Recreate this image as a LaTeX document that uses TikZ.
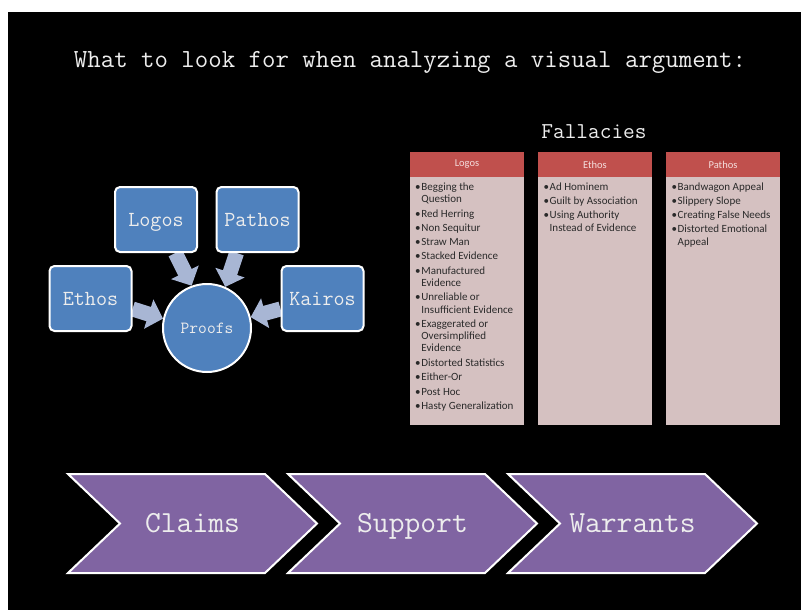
\documentclass[tikz,border=0pt]{standalone}
\usepackage{fontspec}
\setmainfont{Carlito}
\usetikzlibrary{arrows.meta,backgrounds}
\definecolor{boxblue}{HTML}{4F81BD}
\definecolor{arrowc}{HTML}{A8B6D4}
\definecolor{chev}{HTML}{8064A2}
\definecolor{hdr}{HTML}{C0504D}
\definecolor{colbody}{HTML}{D5C1C1}
\definecolor{lighttext}{HTML}{EDEDED}
\definecolor{hdrtext}{HTML}{F5DEDD}
\definecolor{bodytext}{HTML}{2A2A2A}
\newcommand\fbul[1]{\makebox[6.2pt][l]{\textbullet}#1}
\tikzset{
  pbox/.style={draw=white, line width=2pt, fill=boxblue, rounded corners=5pt,
    minimum width=82pt, minimum height=65pt, inner sep=0pt, text=lighttext,
    font=\ttfamily\fontsize{21.5}{25}\selectfont, text height=13pt, text depth=0pt},
  pcircle/.style={circle, draw=white, line width=2pt, fill=boxblue, minimum size=88pt,
    inner sep=0pt, text=lighttext, font=\ttfamily\fontsize{17}{20}\selectfont,
    text height=10.4pt, text depth=0pt},
  barrow/.style={draw=arrowc, line width=15pt, -{Triangle[length=15pt,width=30pt]}},
  hdrbox/.style={fill=hdr, minimum width=114.5pt, minimum height=25pt, inner sep=0pt,
    text=hdrtext, font=\fontsize{10.5}{12}\selectfont},
  bodybox/.style={fill=colbody, minimum width=114.5pt, minimum height=248pt, inner sep=0pt, anchor=north},
  fline/.style={anchor=west, inner sep=0pt, text=bodytext, font=\fontsize{11}{13}\selectfont,
    text height=7.5pt, text depth=2.5pt},
  chevron/.style={fill=chev, draw=white, line width=2pt, line join=miter},
  chevlabel/.style={text=lighttext, font=\ttfamily\fontsize{30.7}{36}\selectfont,
    text height=19pt, text depth=0pt, inner sep=0pt},
  heading/.style={text=lighttext, inner sep=0pt, anchor=base}
}
\begin{document}
\begin{tikzpicture}[x=1pt,y=-1pt]
\useasboundingbox (0,0) rectangle (801,610);
\begin{scope}[on background layer]
  \fill[white] (0,0) rectangle (801,610);
  \fill[black] (8,12) rectangle (801,610);
\end{scope}

% title
\node[heading, font=\ttfamily\fontsize{26.1}{31}\selectfont] (title) at (410,67.5)
  {What to look for when analyzing a visual argument:};

% proofs diagram
\node[pbox] (logos) at (156,219.5) {Logos};
\node[pbox] (pathos) at (257.5,219.5) {Pathos};
\node[pbox] (ethos) at (90.5,298.5) {Ethos};
\node[pbox] (kairos) at (322.5,298.5) {Kairos};
\node[pcircle] (proofs) at (207,328) {Proofs};
\begin{scope}[on background layer]
  \draw[barrow] (logos.-60) -- (proofs.110);
  \draw[barrow] (pathos.-122) -- (proofs.66);
  \draw[barrow] (ethos.-14) -- (proofs.168);
  \draw[barrow] (kairos.194) -- (proofs.14);
\end{scope}

% fallacies
\node[heading, font=\ttfamily\fontsize{22.7}{27}\selectfont] (fall) at (594,139) {Fallacies};
\node[hdrbox] (lh) at (467,164.5) {Logos};
\node[hdrbox] (eh) at (595,164.5) {Ethos};
\node[hdrbox] (ph) at (723,164.5) {Pathos};
\node[bodybox] (lb) at (lh.south) {};
\node[bodybox] (eb) at (eh.south) {};
\node[bodybox] (pb) at (ph.south) {};

\foreach \yy/\txt [count=\i] in {188/Begging the,214.7/Red Herring,229/Non Sequitur,
  243/Straw Man,257.3/Stacked Evidence,271.8/Manufactured,298.2/Unreliable or,
  325/Exaggerated or,363.8/Distorted Statistics,378/Either-Or,392.5/Post Hoc,
  406.7/Hasty Generalization}
  \node[fline] (lgb\i) at (415,\yy) {\fbul{\txt}};
\foreach \yy/\txt [count=\i] in {200/Question,284/Evidence,310.5/Insufficient Evidence,
  337/Oversimplified,349/Evidence}
  \node[fline] (lgc\i) at (421.2,\yy) {\txt};

\foreach \yy/\txt [count=\i] in {188/Ad Hominem,202/Guilt by Association,216/Using Authority}
  \node[fline] (etb\i) at (543.3,\yy) {\fbul{\txt}};
\node[fline] (etc1) at (549.5,229) {Instead of Evidence};

\foreach \yy/\txt [count=\i] in {188/Bandwagon Appeal,202/Slippery Slope,
  216/Creating False Needs,230/Distorted Emotional}
  \node[fline] (ptb\i) at (671.3,\yy) {\fbul{\txt}};
\node[fline] (ptc1) at (677.5,243) {Appeal};

% chevrons
\path[chevron] (68,474) -- (265,474) -- (317,523.5) -- (265,573) -- (68,573) -- (120,523.5) -- cycle;
\path[chevron] (288,474) -- (485,474) -- (537,523.5) -- (485,573) -- (288,573) -- (340,523.5) -- cycle;
\path[chevron] (508,474) -- (705,474) -- (757,523.5) -- (705,573) -- (508,573) -- (560,523.5) -- cycle;
\node[chevlabel] (claims) at (192.5,523) {Claims};
\node[chevlabel] (support) at (412.5,523) {Support};
\node[chevlabel] (warrants) at (632.5,523) {Warrants};
\end{tikzpicture}
\end{document}
